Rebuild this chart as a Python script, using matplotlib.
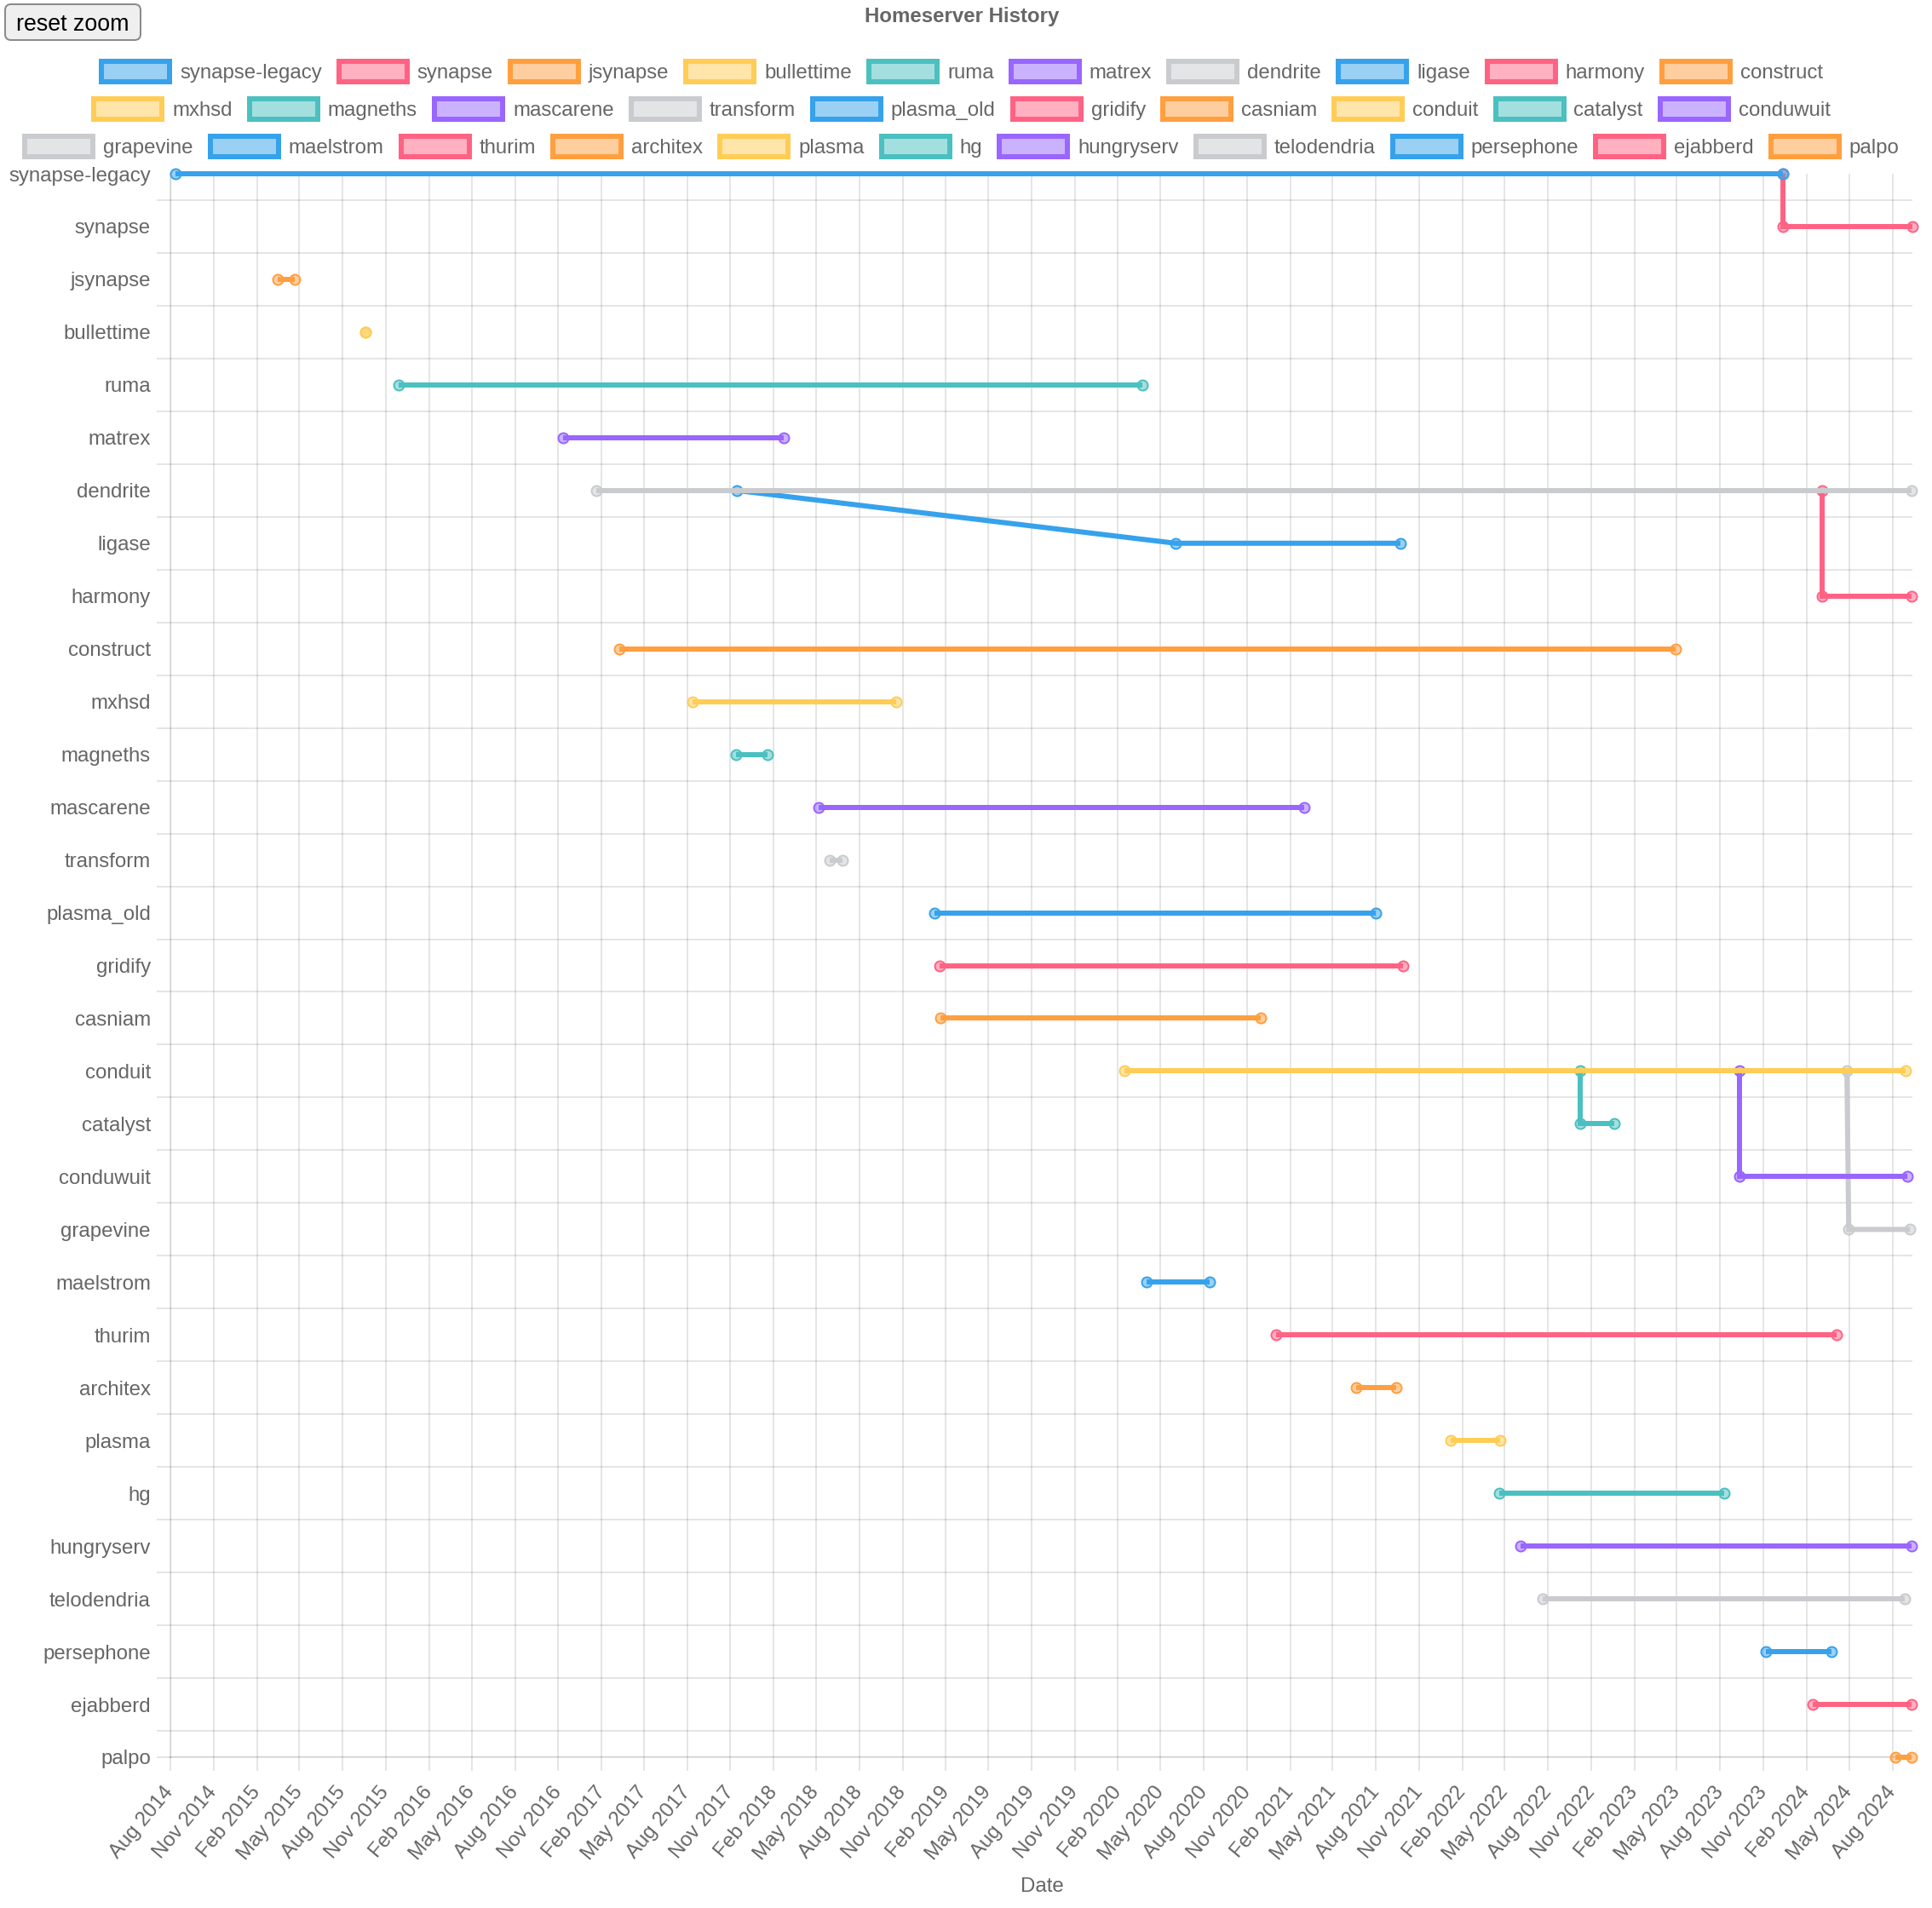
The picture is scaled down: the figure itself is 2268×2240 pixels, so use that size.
import numpy as np
import pandas as pd
import matplotlib
matplotlib.use("Agg")
import matplotlib.pyplot as plt
import matplotlib.dates as mdates
from matplotlib.patches import Rectangle, FancyBboxPatch

plt.rcParams['font.family'] = ['Liberation Sans', 'DejaVu Sans']

# homeserver implementations, top to bottom
servers = ["synapse-legacy", "synapse", "jsynapse", "bullettime", "ruma", "matrex",
           "dendrite", "ligase", "harmony", "construct", "mxhsd", "magneths",
           "mascarene", "transform", "plasma_old", "gridify", "casniam", "conduit",
           "catalyst", "conduwuit", "grapevine", "maelstrom", "thurim", "architex",
           "plasma", "hg", "hungryserv", "telodendria", "persephone", "ejabberd", "palpo"]

# first and last date on the server's own row
start_dates = ["2014-08-11", "2023-12-12", "2015-03-16", "2015-09-19", "2015-11-28", "2016-11-11",
               "2017-01-20", "2020-06-02", "2024-03-05", "2017-03-10", "2017-08-13", "2017-11-13",
               "2018-05-07", "2018-05-30", "2019-01-07", "2019-01-18", "2019-01-21", "2020-02-15",
               "2022-10-08", "2023-09-11", "2024-04-30", "2020-04-02", "2021-01-02", "2021-06-20",
               "2022-01-06", "2022-04-20", "2022-06-03", "2022-07-20", "2023-11-06", "2024-02-13",
               "2024-08-07"]
end_dates = ["2023-12-12", "2024-09-12", "2015-04-22", "2015-09-19", "2020-03-23", "2018-02-22",
             "2024-09-10", "2021-09-22", "2024-09-10", "2023-04-29", "2018-10-19", "2018-01-18",
             "2021-03-02", "2018-06-27", "2021-08-01", "2021-09-27", "2020-11-29", "2024-08-28",
             "2022-12-19", "2024-09-01", "2024-09-07", "2020-08-14", "2024-04-04", "2021-09-13",
             "2022-04-21", "2023-08-10", "2024-09-11", "2024-08-26", "2024-03-25", "2024-09-10",
             "2024-09-11"]

# forks start on the parent's row
fork_parent = {"synapse": "synapse-legacy", "ligase": "dendrite", "harmony": "dendrite",
               "catalyst": "conduit", "conduwuit": "conduit", "grapevine": "conduit"}
fork_date = {"synapse": "2023-12-12", "ligase": "2017-11-14", "harmony": "2024-03-05",
             "catalyst": "2022-10-08", "conduwuit": "2023-09-11", "grapevine": "2024-04-26"}

# chart.js default palette (border, background)
palette = [((54/255, 162/255, 235/255), (54/255, 162/255, 235/255, 0.5)),
           ((255/255, 99/255, 132/255), (255/255, 99/255, 132/255, 0.5)),
           ((255/255, 159/255, 64/255), (255/255, 159/255, 64/255, 0.5)),
           ((255/255, 205/255, 86/255), (255/255, 205/255, 86/255, 0.5)),
           ((75/255, 192/255, 192/255), (75/255, 192/255, 192/255, 0.5)),
           ((153/255, 102/255, 255/255), (153/255, 102/255, 255/255, 0.5)),
           ((201/255, 203/255, 207/255), (201/255, 203/255, 207/255, 0.5))]

legend_rows = [10, 10, 11]

W, H, DPI = 2268, 2240, 100
PX = 72 / DPI          # points per pixel
GRID = (0, 0, 0, 0.1)
TXT = '#666666'
FS = 24 * PX

fig = plt.figure(figsize=(W / DPI, H / DPI), dpi=DPI)
ax = fig.add_axes([200 / W, 1 - 2063 / H, 2045 / W, (2063 - 204) / H])

n = len(servers)
starts = mdates.date2num(pd.to_datetime(start_dates))
ends = mdates.date2num(pd.to_datetime(end_dates))

# chart.js draws the first dataset on top
for i in range(n - 1, -1, -1):
    name = servers[i]
    edge, face = palette[i % len(palette)]
    xs, ys = [starts[i], ends[i]], [i, i]
    if name in fork_parent:
        xs = [mdates.date2num(pd.Timestamp(fork_date[name]))] + xs
        ys = [servers.index(fork_parent[name])] + ys
    z = 3 + (n - i) * 2
    ax.plot(xs, ys, color=edge, lw=6 * PX, solid_capstyle='butt',
            solid_joinstyle='miter', clip_on=False, zorder=z)
    ax.plot(xs, ys, 'o', ms=12 * PX, mfc=face, mec=edge, mew=2 * PX,
            clip_on=False, zorder=z + 1)

first = pd.Timestamp(min(start_dates)).to_period('M').start_time
ax.set_xlim(mdates.date2num(first), ends.max())
ax.set_ylim(n - 1, 0)

ax.xaxis.set_major_locator(mdates.MonthLocator(bymonth=[2, 5, 8, 11], bymonthday=1))
ax.xaxis.set_major_formatter(mdates.DateFormatter('%b %Y'))
ax.set_yticks(range(n))
ax.set_yticklabels(servers)
ax.set_yticks(list(np.arange(0.5, n - 1, 1.0)) + [n - 1], minor=True)
ax.yaxis.remove_overlapping_locs = False

# rcParams grid.alpha would override an rgba colour, so pass alpha explicitly
ax.grid(which='major', axis='x', color='black', alpha=0.1, lw=2 * PX)
ax.grid(which='minor', axis='y', color='black', alpha=0.1, lw=2 * PX)
ax.set_axisbelow(True)

ax.tick_params(axis='y', which='major', length=0, pad=23 * PX, labelsize=FS, labelcolor=TXT)
ax.tick_params(axis='y', which='minor', length=16 * PX, width=2 * PX, color=GRID)
ax.tick_params(axis='x', which='major', length=16 * PX, width=2 * PX, color=GRID,
               pad=21 * PX, labelsize=FS, labelcolor=TXT)
plt.setp(ax.get_xticklabels(), rotation=50, ha='right', va='center', rotation_mode='anchor')

for side in ['top', 'right']:
    ax.spines[side].set_visible(False)
for side in ['left', 'bottom']:
    ax.spines[side].set_color(GRID)
    ax.spines[side].set_linewidth(2 * PX)

# overlay in pixel coordinates for title, legend, button
ov = fig.add_axes([0, 0, 1, 1], zorder=50)
ov.set_xlim(0, W)
ov.set_ylim(H, 0)
ov.axis('off')

ov.text(1129, 26, 'Homeserver History', fontsize=FS, weight='bold', color=TXT,
        ha='center', va='baseline')
ov.text(1223, 2221, 'Date', fontsize=FS, color=TXT, ha='center', va='baseline')

ov.add_patch(FancyBboxPatch((6, 5), 159, 42, boxstyle='round,pad=0,rounding_size=7',
                            fc='#efefef', ec='#8a8a8a', lw=2 * PX))
ov.text(85.5, 35.5, 'reset zoom', fontsize=26.7 * PX, color='black', ha='center', va='baseline')

renderer = fig.canvas.get_renderer()
k = 0
for r, cnt in enumerate(legend_rows):
    cy = 84 + 44 * r
    idx = list(range(k, k + cnt))
    texts = [ov.text(0, cy + 8.3, servers[i], fontsize=FS, color=TXT, ha='left', va='baseline')
             for i in idx]
    widths = [t.get_window_extent(renderer).width for t in texts]
    row_w = sum(92 + w for w in widths) + 20 * (cnt - 1)
    x = 1128 - row_w / 2 + 1.5
    for i, t, w in zip(idx, texts, widths):
        edge, face = palette[i % len(palette)]
        ov.add_patch(Rectangle((x, cy - 12), 80, 24, fc=face, ec=edge, lw=6 * PX))
        t.set_x(x + 92)
        x += 92 + w + 20
    k += cnt

fig.savefig('out.png', dpi=DPI, facecolor='white')
